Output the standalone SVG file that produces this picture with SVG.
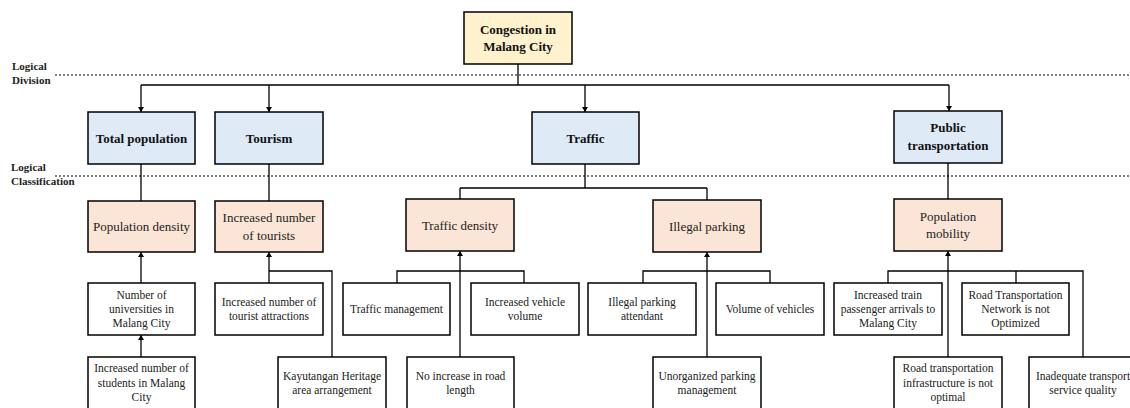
<svg xmlns="http://www.w3.org/2000/svg" width="1130" height="408" viewBox="0 0 1130 408">
<style>
.box{stroke:#000;stroke-width:1.5}
.root{fill:#FFF2CC}
.l1{fill:#DEEAF6}
.l2{fill:#FBE5D6}
.l3{fill:#FFFFFF}
.b{font-family:"Liberation Serif",serif;font-weight:bold;font-size:13px;fill:#111;text-anchor:middle}
.r{font-family:"Liberation Serif",serif;font-size:13px;fill:#222;text-anchor:middle}
.s{font-family:"Liberation Serif",serif;font-size:11.5px;fill:#222;text-anchor:middle}
.lab{font-family:"Liberation Serif",serif;font-weight:bold;font-size:11px;fill:#222}
.dot{stroke:#000;stroke-width:1.2;stroke-dasharray:2 2;fill:none}
.c{stroke:#000;stroke-width:1.3;fill:none}
</style>
<defs>
<marker id="ah" viewBox="0 0 10 10" refX="10" refY="5" markerWidth="5" markerHeight="6" markerUnits="userSpaceOnUse" orient="auto" preserveAspectRatio="none">
<path d="M0,0 L10,5 L0,10 z" fill="#000"/>
</marker>
</defs>

<g id="guides">
<line class="dot" x1="55" y1="75" x2="1130" y2="75"/>
<line class="dot" x1="55" y1="176" x2="1130" y2="176"/>
<text class="lab" x="12" y="70">Logical</text>
<text class="lab" x="12" y="84">Division</text>
<text class="lab" x="11" y="171">Logical</text>
<text class="lab" x="11" y="185">Classification</text>
</g>

<g id="connectors">
<path class="c" d="M518,64 V85"/>
<path class="c" d="M141,85 H949"/>
<path class="c" d="M141,85 V112" marker-end="url(#ah)"/>
<path class="c" d="M269,85 V112" marker-end="url(#ah)"/>
<path class="c" d="M585,85 V112" marker-end="url(#ah)"/>
<path class="c" d="M949,85 V111" marker-end="url(#ah)"/>
<path class="c" d="M141,164 V201"/>
<path class="c" d="M269,164 V201"/>
<path class="c" d="M585,164 V188 M460,188 H707 M460,188 V199 M707,188 V200"/>
<path class="c" d="M948,163 V199"/>
<path class="c" d="M141,283 V252" marker-end="url(#ah)"/>
<path class="c" d="M141,357 V335" marker-end="url(#ah)"/>
<path class="c" d="M269,271 V252" marker-end="url(#ah)"/>
<path class="c" d="M269,271 V283 M269,271 H332 V357"/>
<path class="c" d="M460,357 V251" marker-end="url(#ah)"/>
<path class="c" d="M397,283 V271 H524 V283"/>
<path class="c" d="M707,357 V252" marker-end="url(#ah)"/>
<path class="c" d="M643,283 V271 H770 V283"/>
<path class="c" d="M948,357 V251" marker-end="url(#ah)"/>
<path class="c" d="M888,283 V271 H1083 V357 M1016,271 V283"/>
</g>

<g id="n-root">
<rect class="box root" x="464" y="12" width="108" height="52"/>
<text class="b" x="518" y="34">Congestion in</text>
<text class="b" x="518" y="51">Malang City</text>
</g>

<g id="n-total-population">
<rect class="box l1" x="88" y="112" width="107" height="52"/>
<text class="b" x="141.5" y="142.5">Total population</text>
</g>
<g id="n-tourism">
<rect class="box l1" x="215" y="112" width="108" height="52"/>
<text class="b" x="269" y="142.5">Tourism</text>
</g>
<g id="n-traffic">
<rect class="box l1" x="532" y="112" width="107" height="52"/>
<text class="b" x="585.5" y="142.5">Traffic</text>
</g>
<g id="n-public-transportation">
<rect class="box l1" x="894" y="111" width="108" height="52"/>
<text class="b" x="948" y="132">Public</text>
<text class="b" x="948" y="150">transportation</text>
</g>

<g id="n-population-density">
<rect class="box l2" x="88" y="201" width="107" height="51"/>
<text class="r" x="141.5" y="231">Population density</text>
</g>
<g id="n-increased-tourists">
<rect class="box l2" x="215" y="201" width="108" height="51"/>
<text class="r" x="269" y="222">Increased number</text>
<text class="r" x="269" y="240">of tourists</text>
</g>
<g id="n-traffic-density">
<rect class="box l2" x="406" y="199" width="108" height="52"/>
<text class="r" x="460" y="229.5">Traffic density</text>
</g>
<g id="n-illegal-parking">
<rect class="box l2" x="653" y="200" width="108" height="52"/>
<text class="r" x="707" y="230.5">Illegal parking</text>
</g>
<g id="n-population-mobility">
<rect class="box l2" x="894" y="199" width="108" height="52"/>
<text class="r" x="948" y="221">Population</text>
<text class="r" x="948" y="238">mobility</text>
</g>

<g id="n-universities">
<rect class="box l3" x="88" y="283" width="107" height="52"/>
<text class="s" x="141.5" y="299">Number of</text>
<text class="s" x="141.5" y="313">universities in</text>
<text class="s" x="141.5" y="327">Malang City</text>
</g>
<g id="n-students">
<rect class="box l3" x="88" y="357" width="107" height="53"/>
<text class="s" x="141.5" y="372">Increased number of</text>
<text class="s" x="141.5" y="386.5">students in Malang</text>
<text class="s" x="141.5" y="401">City</text>
</g>
<g id="n-tourist-attractions">
<rect class="box l3" x="215" y="283" width="108" height="52"/>
<text class="s" x="269" y="306">Increased number of</text>
<text class="s" x="269" y="320">tourist attractions</text>
</g>
<g id="n-kayutangan">
<rect class="box l3" x="278" y="357" width="108" height="53"/>
<text class="s" x="332" y="380">Kayutangan Heritage</text>
<text class="s" x="332" y="394">area arrangement</text>
</g>
<g id="n-traffic-management">
<rect class="box l3" x="343" y="283" width="107" height="52"/>
<text class="s" x="396.5" y="313">Traffic management</text>
</g>
<g id="n-vehicle-volume">
<rect class="box l3" x="471" y="283" width="108" height="52"/>
<text class="s" x="525" y="306">Increased vehicle</text>
<text class="s" x="525" y="320">volume</text>
</g>
<g id="n-road-length">
<rect class="box l3" x="407" y="357" width="107" height="53"/>
<text class="s" x="460.5" y="380">No increase in road</text>
<text class="s" x="460.5" y="394">length</text>
</g>
<g id="n-parking-attendant">
<rect class="box l3" x="588" y="283" width="108" height="52"/>
<text class="s" x="642" y="306">Illegal parking</text>
<text class="s" x="642" y="320">attendant</text>
</g>
<g id="n-volume-vehicles">
<rect class="box l3" x="716" y="283" width="108" height="52"/>
<text class="s" x="770" y="313">Volume of vehicles</text>
</g>
<g id="n-unorganized-parking">
<rect class="box l3" x="653" y="357" width="108" height="53"/>
<text class="s" x="707" y="380">Unorganized parking</text>
<text class="s" x="707" y="394">management</text>
</g>
<g id="n-train-passengers">
<rect class="box l3" x="834" y="283" width="108" height="52"/>
<text class="s" x="888" y="299">Increased train</text>
<text class="s" x="888" y="313">passenger arrivals to</text>
<text class="s" x="888" y="327">Malang City</text>
</g>
<g id="n-road-network">
<rect class="box l3" x="962" y="283" width="107" height="52"/>
<text class="s" x="1015.5" y="299">Road Transportation</text>
<text class="s" x="1015.5" y="313">Network is not</text>
<text class="s" x="1015.5" y="327">Optimized</text>
</g>
<g id="n-road-infrastructure">
<rect class="box l3" x="894" y="357" width="108" height="53"/>
<text class="s" x="948" y="372">Road transportation</text>
<text class="s" x="948" y="386.5">infrastructure is not</text>
<text class="s" x="948" y="401">optimal</text>
</g>
<g id="n-transport-service">
<rect class="box l3" x="1029" y="357" width="108" height="53"/>
<text class="s" x="1083" y="380">Inadequate transport</text>
<text class="s" x="1083" y="394">service quality</text>
</g>
</svg>
